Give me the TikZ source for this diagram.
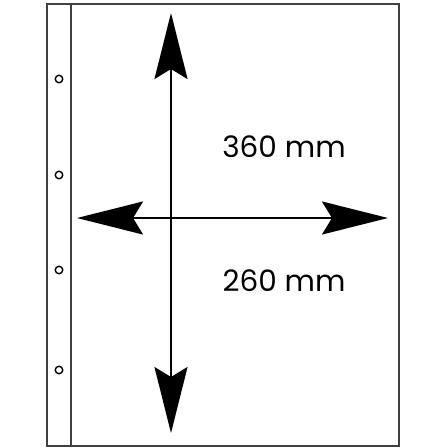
\documentclass[tikz,border=0pt]{standalone}
\usepackage{fontspec}
\setmainfont{Poppins}
\usetikzlibrary{arrows.meta}
\begin{document}
\begin{tikzpicture}[x=1pt,y=-1pt,
  frame/.style={draw=black!75,line width=1.6pt},
  hole/.style={circle,draw=black,line width=1.4pt,minimum size=7.5pt,inner sep=0pt},
  dimarrow/.style={line width=2.2pt,{Stealth[length=66pt,width=33pt,inset=10pt]}-{Stealth[length=66pt,width=33pt,inset=10pt]}},
  lbl/.style={font=\fontsize{29.5}{34}\selectfont,inner sep=0pt,anchor=base}]
\useasboundingbox (0,0) rectangle (448,448);
\draw[frame] (47,4) rectangle (399,446);
\draw[frame] (71,4) -- (71,446);
\foreach \y/\n in {79/a,175/b,270/c,370/d}
  \node[hole] (h\n) at (59,\y) {};
\coordinate (top) at (171,13);
\coordinate (bot) at (171,433);
\coordinate (lft) at (77,218);
\coordinate (rgt) at (388,218);
\draw[dimarrow] (top) -- (bot);
\draw[dimarrow] (lft) -- (rgt);
\node[lbl] (t1) at (284,157) {360 mm};
\node[lbl] (t2) at (284,291) {260 mm};
\end{tikzpicture}
\end{document}
